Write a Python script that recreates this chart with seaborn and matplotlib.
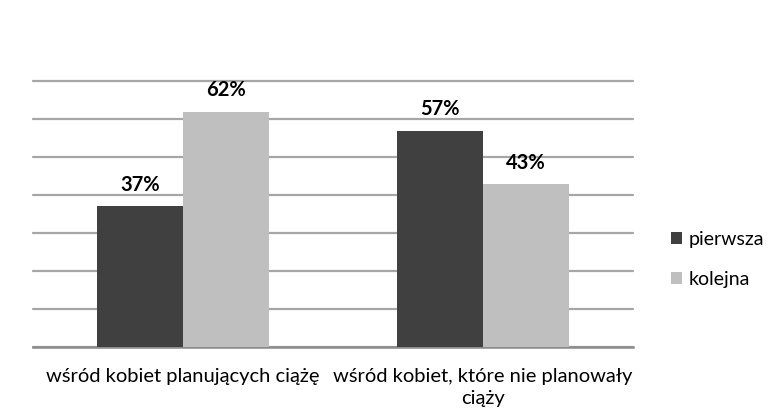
import matplotlib
matplotlib.use('Agg')
import matplotlib.pyplot as plt
import seaborn as sns
import pandas as pd

categories = ['wśród kobiet planujących ciążę', 'wśród kobiet, które nie planowały\nciąży']
series = ['pierwsza', 'kolejna']
pierwsza = [37, 57]
kolejna = [62, 43]

df = pd.DataFrame({
    'kategoria': categories * 2,
    'seria': [series[0]] * 2 + [series[1]] * 2,
    'wartosc': pierwsza + kolejna,
})

sns.set_theme(style='white')
plt.rcParams['font.family'] = ['Lato', 'DejaVu Sans']
plt.rcParams['text.color'] = '#000000'

fig = plt.figure(figsize=(7.77, 4.2), dpi=100)
ax = fig.add_axes([0.0425, 0.1738, 0.772, 0.633])

palette = {'pierwsza': '#404040', 'kolejna': '#bfbfbf'}
sns.barplot(data=df, x='kategoria', y='wartosc', hue='seria', palette=palette,
            width=0.573, saturation=1, linewidth=0, ax=ax, zorder=3)

ax.set_ylim(0, 70)
ax.set_xlim(-0.5, 1.5)
ax.set_yticks(range(0, 71, 10))
ax.yaxis.grid(True, color='#a6a6a6', linewidth=1.6, zorder=0)
for gl in ax.get_ygridlines():
    gl.set_clip_on(False)
ax.set_axisbelow(True)
ax.tick_params(axis='y', left=False, labelleft=False)
ax.tick_params(axis='x', bottom=False, labelsize=14.5, pad=9, colors='#000000')
for lbl in ax.get_xticklabels():
    lbl.set_linespacing(1.4)
for s in ['top', 'right', 'left']:
    ax.spines[s].set_visible(False)
ax.spines['bottom'].set_color('#8c8c8c')
ax.spines['bottom'].set_linewidth(1.8)
ax.set_xlabel('')
ax.set_ylabel('')

for cont in ax.containers:
    ax.bar_label(cont, labels=[f'{int(v)}%' for v in cont.datavalues],
                 padding=8, fontsize=14.5, fontweight='bold', color='#000000')

leg = ax.legend(loc='center left', bbox_to_anchor=(1.035, 0.33), frameon=False,
                fontsize=14, handlelength=0.55, handleheight=0.55, handletextpad=0.35,
                labelspacing=1.2)
for t in leg.get_texts():
    t.set_color('#000000')

fig.savefig('out.png', dpi=100)
